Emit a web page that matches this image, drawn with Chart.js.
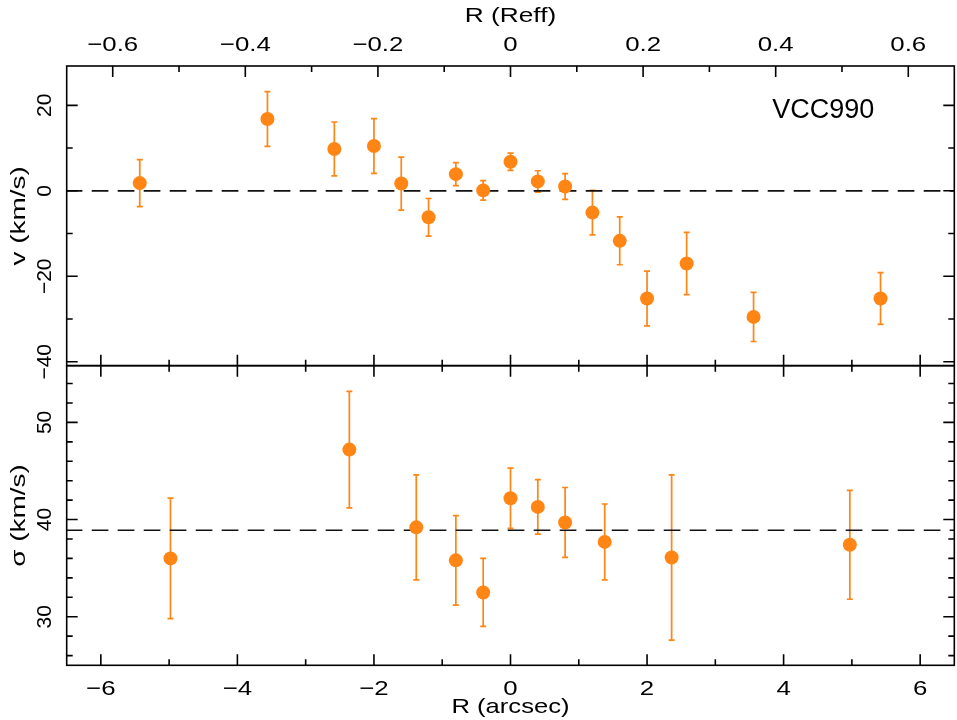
<!DOCTYPE html>
<html><head><meta charset="utf-8">
<script src="https://cdn.jsdelivr.net/npm/chart.js@4/dist/chart.umd.min.js"></script>
<style>html,body{margin:0;padding:0;background:#fff}canvas{display:block}</style>
</head><body>
<canvas id="c" width="957" height="720"></canvas>
<script>
// ---- data ----
const R_V   = [-5.43, -3.56, -2.58, -2.0, -1.6, -1.2, -0.8, -0.4, 0.0, 0.4, 0.8, 1.2, 1.6, 2.0, 2.58, 3.56, 5.42];
const V     = [1.8, 16.8, 9.8, 10.5, 1.7, -6.2, 3.9, 0.1, 6.8, 2.2, 1.0, -5.1, -11.7, -25.2, -17.0, -29.5, -25.2];
const V_ERR = [5.5, 6.4, 6.3, 6.4, 6.2, 4.4, 2.7, 2.3, 2.0, 2.5, 3.0, 5.2, 5.6, 6.4, 7.3, 5.75, 6.05];

const R_S   = [-4.98, -2.36, -1.38, -0.8, -0.4, 0.0, 0.4, 0.8, 1.38, 2.36, 4.97];
const SIG   = [36.0, 47.2, 39.2, 35.8, 32.5, 42.2, 41.3, 39.7, 37.7, 36.1, 37.4];
const S_ERR = [6.2, 6.0, 5.4, 4.6, 3.5, 3.1, 2.8, 3.6, 3.9, 8.5, 5.6];

const V_REF = 0;      // dashed reference in velocity panel
const S_REF = 38.9;   // dashed reference in dispersion panel
const REFF = 9.71;    // arcsec per Reff

const X_RANGE = [-6.5, 6.5];
const V_RANGE = [-40.9, 29.2];
const S_RANGE = [25, 55.84];

const X_TICKS = [-6, -4, -2, 0, 2, 4, 6];
const X_MINOR = [-5, -3, -1, 1, 3, 5];
const REFF_TICKS = [-0.6, -0.4, -0.2, 0, 0.2, 0.4, 0.6];
const REFF_MINOR = [-0.5, -0.3, -0.1, 0.1, 0.3, 0.5];
const V_TICKS = [-40, -20, 0, 20];
const V_MINOR = [-30, -10, 10];
const S_TICKS = [30, 40, 50];
const S_MINOR = [26, 28, 32, 34, 36, 38, 42, 44, 46, 48, 52, 54];

const LABEL = 'VCC990';
const X_TITLE = 'R (arcsec)';
const XTOP_TITLE = 'R (Reff)';
const V_TITLE = 'v (km/s)';
const S_TITLE = 'σ (km/s)';

// ---- style ----
const ORANGE = '#ff8514';
const FONT = '"Liberation Sans", Arial, Helvetica, sans-serif';

function fmt(v) { return String(v).replace('-', '\u2212'); }

function txt(ctx, s, x, y, o) {
  ctx.save();
  ctx.translate(x, y);
  if (o.rot) ctx.rotate(o.rot);
  ctx.scale(o.sx || 1, 1);
  ctx.font = o.size + 'px ' + FONT;
  ctx.textAlign = o.align || 'center';
  ctx.textBaseline = 'alphabetic';
  ctx.fillStyle = '#000';
  ctx.fillText(s, 0, 0);
  ctx.restore();
}

const errorBars = {
  id: 'errorBars',
  beforeDatasetsDraw(chart) {
    const ctx = chart.ctx, x = chart.scales.x;
    const draw = (xs, ys, es, yScale) => {
      ctx.save();
      ctx.strokeStyle = ORANGE;
      ctx.lineWidth = 1.7;
      for (let i = 0; i < xs.length; i++) {
        const px = x.getPixelForValue(xs[i]);
        const p1 = yScale.getPixelForValue(ys[i] + es[i]);
        const p2 = yScale.getPixelForValue(ys[i] - es[i]);
        ctx.beginPath();
        ctx.moveTo(px, p1); ctx.lineTo(px, p2);
        ctx.moveTo(px - 3, p1); ctx.lineTo(px + 3, p1);
        ctx.moveTo(px - 3, p2); ctx.lineTo(px + 3, p2);
        ctx.stroke();
      }
      ctx.restore();
    };
    draw(R_V, V, V_ERR, chart.scales.yV);
    draw(R_S, SIG, S_ERR, chart.scales.yS);
  }
};

const frame = {
  id: 'frame',
  afterDraw(chart) {
    const ctx = chart.ctx;
    const x = chart.scales.x, xt = chart.scales.xTop;
    const yV = chart.scales.yV, yS = chart.scales.yS;
    const L = x.left, Rr = x.right;
    const MAJ = 11, MIN = 6;
    ctx.save();
    ctx.strokeStyle = '#000';
    ctx.lineWidth = 1.6;
    ctx.strokeRect(L, yV.top, Rr - L, yV.bottom - yV.top);
    ctx.strokeRect(L, yS.top, Rr - L, yS.bottom - yS.top);
    ctx.beginPath();
    const vtick = (px, y0, len) => { ctx.moveTo(px, y0); ctx.lineTo(px, y0 + len); };
    const htick = (py, x0, len) => { ctx.moveTo(x0, py); ctx.lineTo(x0 + len, py); };
    REFF_TICKS.forEach(v => vtick(xt.getPixelForValue(v), yV.top, MAJ));
    REFF_MINOR.forEach(v => vtick(xt.getPixelForValue(v), yV.top, MIN));
    [[yV.bottom, -1], [yS.top, 1], [yS.bottom, -1]].forEach(([yy, d]) => {
      X_TICKS.forEach(v => vtick(x.getPixelForValue(v), yy, d * MAJ));
      X_MINOR.forEach(v => vtick(x.getPixelForValue(v), yy, d * MIN));
    });
    [[yV, V_TICKS, V_MINOR], [yS, S_TICKS, S_MINOR]].forEach(([s, maj, mn]) => {
      maj.forEach(v => { const p = s.getPixelForValue(v); htick(p, L, MAJ); htick(p, Rr, -MAJ); });
      mn.forEach(v => { const p = s.getPixelForValue(v); htick(p, L, MIN); htick(p, Rr, -MIN); });
    });
    ctx.stroke();
    ctx.restore();

    const SZ = 21, SX = 1.23;
    REFF_TICKS.forEach(v => txt(ctx, fmt(v), xt.getPixelForValue(v), 51, {size: SZ, sx: SX}));
    X_TICKS.forEach(v => txt(ctx, fmt(v), x.getPixelForValue(v), 695, {size: SZ, sx: SX}));
    V_TICKS.forEach(v => txt(ctx, fmt(v), 50.5, yV.getPixelForValue(v), {size: SZ, rot: -Math.PI / 2}));
    S_TICKS.forEach(v => txt(ctx, fmt(v), 50.5, yS.getPixelForValue(v), {size: SZ, rot: -Math.PI / 2}));
    const cx = (L + Rr) / 2;
    txt(ctx, XTOP_TITLE, cx, 21.7, {size: SZ, sx: 1.25});
    txt(ctx, X_TITLE, cx, 713, {size: SZ, sx: 1.22});
    txt(ctx, V_TITLE, 24.5, (yV.top + yV.bottom) / 2, {size: SZ, rot: -Math.PI / 2, sx: 1.33});
    txt(ctx, S_TITLE, 24.5, (yS.top + yS.bottom) / 2, {size: SZ, rot: -Math.PI / 2, sx: 1.33});
    txt(ctx, LABEL, x.getPixelForValue(4.58), yV.getPixelForValue(19.3) + 10, {size: 27});
  }
};

new Chart(document.getElementById('c'), {
  type: 'scatter',
  data: {
    datasets: [
      {
        data: R_V.map((r, i) => ({x: r, y: V[i]})),
        xAxisID: 'x', yAxisID: 'yV',
        backgroundColor: ORANGE, borderWidth: 0, pointRadius: 7, pointHoverRadius: 7
      },
      {
        data: R_S.map((r, i) => ({x: r, y: SIG[i]})),
        xAxisID: 'x', yAxisID: 'yS',
        backgroundColor: ORANGE, borderWidth: 0, pointRadius: 7, pointHoverRadius: 7
      },
      {
        type: 'line',
        data: X_RANGE.map(r => ({x: r, y: V_REF})),
        xAxisID: 'x', yAxisID: 'yV',
        borderColor: '#111', borderWidth: 1.7, borderDash: [16.7, 9.3], borderDashOffset: 1,
        pointRadius: 0, fill: false, order: 5
      },
      {
        type: 'line',
        data: X_RANGE.map(r => ({x: r, y: S_REF})),
        xAxisID: 'x', yAxisID: 'yS',
        borderColor: '#111', borderWidth: 1.7, borderDash: [16.7, 9.3], borderDashOffset: 1,
        pointRadius: 0, fill: false, order: 5
      }
    ]
  },
  options: {
    responsive: false,
    animation: false,
    events: [],
    layout: {autoPadding: false, padding: {left: 66.7, right: 2.7, top: 66, bottom: 54.7}},
    scales: {
      x: {type: 'linear', position: 'bottom', min: X_RANGE[0], max: X_RANGE[1], display: false},
      xTop: {type: 'linear', position: 'top', min: X_RANGE[0] / REFF, max: X_RANGE[1] / REFF, display: false},
      yS: {type: 'linear', position: 'left', stack: 'panels', stackWeight: 1, min: S_RANGE[0], max: S_RANGE[1], display: false},
      yV: {type: 'linear', position: 'left', stack: 'panels', stackWeight: 1, min: V_RANGE[0], max: V_RANGE[1], display: false}
    },
    plugins: {legend: {display: false}, tooltip: {enabled: false}}
  },
  plugins: [errorBars, frame]
});
</script>
</body></html>
